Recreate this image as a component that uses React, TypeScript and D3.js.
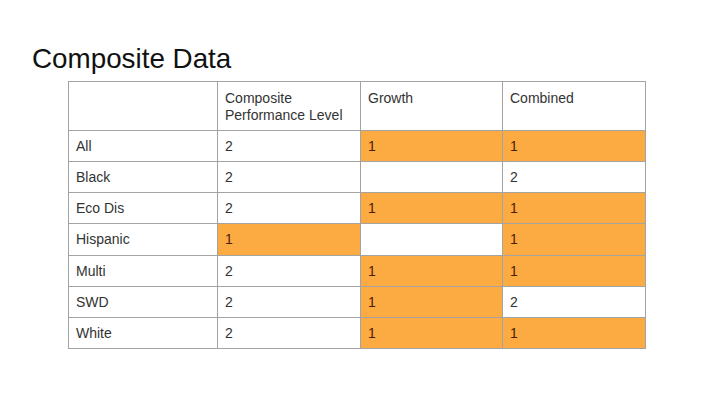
import React from "react";
import * as d3 from "d3";

const title = "Composite Data";
const headers = ["", "Composite\nPerformance Level", "Growth", "Combined"];
const groups = ["All", "Black", "Eco Dis", "Hispanic", "Multi", "SWD", "White"];
const compositePerformance = ["2", "2", "2", "1", "2", "2", "2"];
const growth = ["1", "", "1", "", "1", "1", "1"];
const combined = ["1", "2", "1", "1", "1", "2", "1"];

const ORANGE = "#fcaa42";
const GRID = "#a3a3a3";

export default function App() {
  const W = 720, H = 405;
  const left = 68, right = 645;
  const top = 81, headerH = 49, bottom = 348;
  const firstColW = 149;

  const colX = d3.scaleLinear().domain([1, 4]).range([left + firstColW, right]);
  const colEdges = [left, colX(1), colX(2), colX(3), colX(4)].map(Math.round);
  const rowY = d3.scaleLinear().domain([0, groups.length]).range([top + headerH, bottom]);
  const rowEdges = d3.range(groups.length + 1).map((i) => Math.round(rowY(i)));

  const rows = groups.map((g, i) => [g, compositePerformance[i], growth[i], combined[i]]);

  const font = "'Liberation Sans', Arial, sans-serif";

  return (
    <svg width={W} height={H} style={{ position: "absolute", left: 0, top: 0, background: "#fff" }}>
      <rect x={0} y={0} width={W} height={H} fill="#fff" />
      <text x={32} y={68} fontFamily={font} fontSize={27.8} fill="#111">{title}</text>

      {rows.map((r, i) =>
        r.map((v, j) => {
          if (j === 0) return null;
          const fill = v === "1" ? ORANGE : "#fff";
          return (
            <rect key={`c${i}-${j}`} x={colEdges[j]} y={rowEdges[i]} width={colEdges[j + 1] - colEdges[j]} height={rowEdges[i + 1] - rowEdges[i]} fill={fill} />
          );
        })
      )}

      {colEdges.map((x, k) => (
        <line key={`v${k}`} x1={x + 0.5} x2={x + 0.5} y1={top} y2={bottom} stroke={GRID} strokeWidth={1} />
      ))}
      {[top, ...rowEdges].map((y, k) => (
        <line key={`h${k}`} x1={left} x2={right + 1} y1={y + 0.5} y2={y + 0.5} stroke={GRID} strokeWidth={1} />
      ))}

      {headers.map((h, j) =>
        h.split("\n").map((line, li) => (
          <text key={`h${j}-${li}`} x={colEdges[j] + 8} y={top + 22 + li * 17} fontFamily={font} fontSize={14} fill="#333">{line}</text>
        ))
      )}

      {rows.map((r, i) =>
        r.map((v, j) => (
          <text key={`t${i}-${j}`} x={colEdges[j] + 8} y={(rowEdges[i] + rowEdges[i + 1]) / 2 + 5} fontFamily={font} fontSize={14} fill={v === "1" && j > 0 ? "#4a1e00" : "#333"}>{v}</text>
        ))
      )}
    </svg>
  );
}
